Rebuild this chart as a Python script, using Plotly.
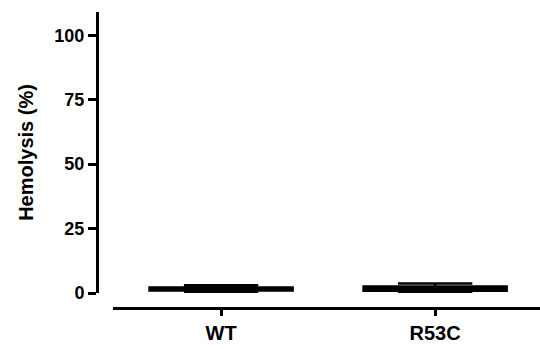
import plotly.graph_objects as go

groups = ["WT", "R53C"]
lower_fence = [0.5, 0.4]
q1 = [1.0, 0.9]
median = [1.5, 1.7]
q3 = [2.1, 2.5]
upper_fence = [3.0, 3.7]
y_ticks = [0, 25, 50, 75, 100]

W, H = 540, 349
ml, mr, mt, mb = 60, 0, 12, 41
pw = W - ml - mr
ph = H - mt - mb

fig = go.Figure()
for i, g in enumerate(groups):
    fig.add_trace(go.Box(
        x=[g], q1=[q1[i]], median=[median[i]], q3=[q3[i]],
        lowerfence=[lower_fence[i]], upperfence=[upper_fence[i]],
        width=0.668, whiskerwidth=0.52,
        line=dict(color="black", width=2.6),
        fillcolor="white", boxpoints=False, showlegend=False,
        hoverinfo="skip",
    ))

font = dict(family="Arial, Liberation Sans, sans-serif", color="black")
fig.update_layout(
    width=W, height=H,
    margin=dict(l=ml, r=mr, t=mt, b=mb, pad=0),
    paper_bgcolor="white", plot_bgcolor="white",
    font=font,
    xaxis=dict(
        domain=[(113 - ml) / pw, 1],
        anchor="free", position=0,
        type="category", categoryorder="array", categoryarray=groups,
        range=[-0.505, 1.49],
        showline=True, linecolor="black", linewidth=3,
        ticks="outside", ticklen=6, tickwidth=3, tickcolor="black",
        tickfont=dict(size=20, weight="bold", **font),
        showgrid=False, zeroline=False,
    ),
    yaxis=dict(
        domain=[(H - mb - 293) / ph, 1],
        anchor="free", position=(97 - ml) / pw,
        range=[0, 109],
        tickvals=y_ticks,
        showline=True, linecolor="black", linewidth=3,
        ticks="outside", ticklen=8, tickwidth=3, tickcolor="black",
        tickfont=dict(size=18, weight="bold", **font),
        title=dict(text="Hemolysis (%)", font=dict(size=20, weight="bold", **font), standoff=14),
        showgrid=False, zeroline=False,
    ),
)

fig.write_html("out.html")
